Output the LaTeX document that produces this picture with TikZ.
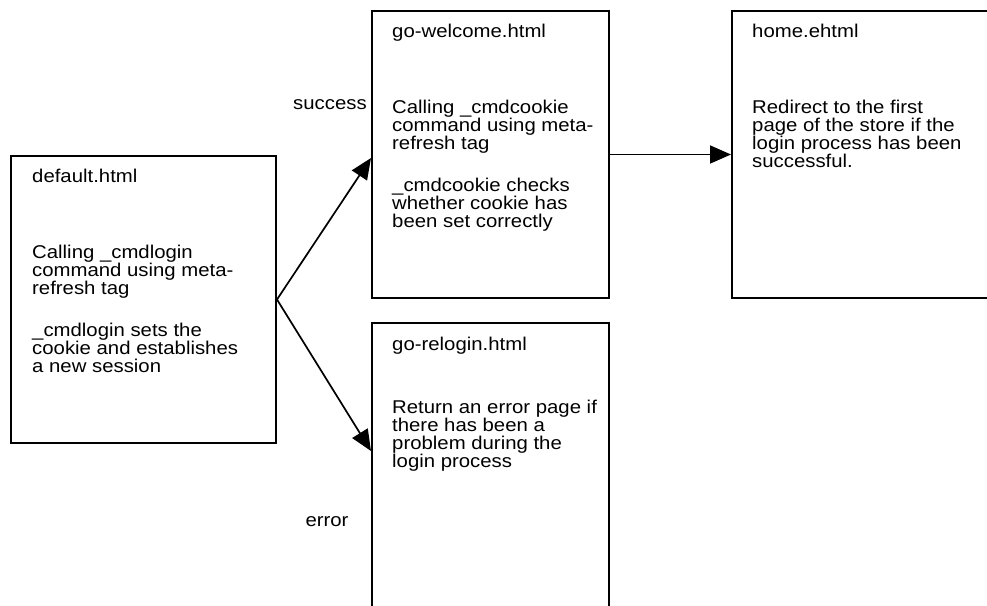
\documentclass[tikz,border=0pt]{standalone}
\usepackage{fontspec}
\setmainfont{Liberation Sans}[FakeStretch=1.1]
\usetikzlibrary{arrows.meta}

\tikzset{
  pagebox/.style={draw, line width=2pt, rectangle, inner sep=0pt, anchor=north west},
  txt/.style={anchor=base west, inner sep=0pt, font=\fontsize{18.5}{18}\selectfont},
  lbl/.style={anchor=base, inner sep=0pt, font=\fontsize{18.5}{18}\selectfont},
  flow/.style={line width=1.7pt, -{Triangle[length=21pt,width=18pt]}}
}
\newcommand{\blk}[1]{\parbox[t]{230pt}{\raggedright #1}}

\begin{document}
\begin{tikzpicture}[x=1pt,y=-1pt]
  \useasboundingbox (0,0) rectangle (987,605);
  \clip (0,0) rectangle (987,605);

  % page boxes
  \node[pagebox, minimum width=265pt, minimum height=287pt] (default) at (10,155) {};
  \node[pagebox, minimum width=237pt, minimum height=287pt] (welcome) at (371,10) {};
  \node[pagebox, minimum width=270pt, minimum height=287pt] (home) at (731,10) {};
  \node[pagebox, minimum width=237pt, minimum height=290pt] (relogin) at (371,322) {};

  % texts inside the boxes
  \node[txt] (defaultT) at (32,182) {default.html};
  \node[txt] (defaultB) at (32,258) {\blk{Calling \_cmdlogin\\ command using meta-\\ refresh tag\\[24pt] \_cmdlogin sets the\\ cookie and establishes\\ a new session}};

  \node[txt] (welcomeT) at (392,37) {go-welcome.html};
  \node[txt] (welcomeB) at (392,113) {\blk{Calling \_cmdcookie\\ command using meta-\\ refresh tag\\[24pt] \_cmdcookie checks\\ whether cookie has\\ been set correctly}};

  \node[txt] (homeT) at (752,37) {home.ehtml};
  \node[txt] (homeB) at (752,113) {\blk{Redirect to the first\\ page of the store if the\\ login process has been\\ successful.}};

  \node[txt] (reloginT) at (392,350) {go-relogin.html};
  \node[txt] (reloginB) at (392,413) {\blk{Return an error page if\\ there has been a\\ problem during the\\ login process}};

  % branch labels
  \node[lbl] (success) at (330,109) {success};
  \node[lbl] (error) at (327,526) {error};

  % connectors
  \coordinate (okIn) at (371,158);
  \coordinate (errIn) at (371,451);
  \draw[flow] (default.east) -- (okIn);
  \draw[flow] (default.east) -- (errIn);
  \draw[flow] (welcome.east) -- (home.west);
\end{tikzpicture}
\end{document}
